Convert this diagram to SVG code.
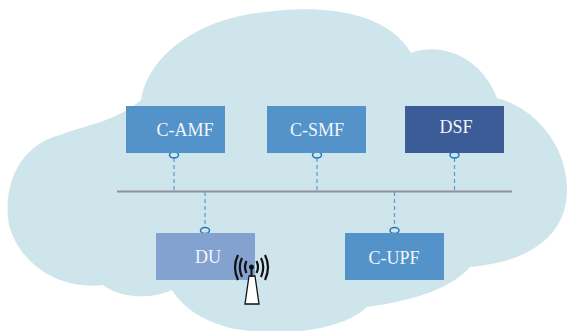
<svg xmlns="http://www.w3.org/2000/svg" width="567" height="331" viewBox="0 0 567 331">
<style>
.n{stroke:none}
.t{font-family:"Liberation Serif","Times New Roman",serif;font-size:18px;fill:#f2f6fa;text-anchor:middle}
.d{stroke:#5b9bd0;stroke-width:1.2;stroke-dasharray:4 3;fill:none}
.o{fill:none;stroke:#1f78bd;stroke-width:1.5}
</style>
<rect width="567" height="331" fill="#fff"/>
<path id="cloud" fill="#cde5eb" d="M141 100C150 50 205 18 265 12C315 5 385 8 411 53C440 42 480 55 497 98C535 108 567 145 567 190C567 235 530 262 470 267C455 285 420 300 367 307C345 328 290 338 235 329C205 322 185 310 172 290C150 300 120 298 103 285C60 290 20 265 9 225C2 185 20 145 60 135C85 125 115 122 141 100Z"/>
<g id="connectors">
<line x1="117" y1="191.500" x2="512" y2="191.500" stroke="#8e9296" stroke-width="2"/>
<line class="d" x1="174" y1="158" x2="174" y2="191"/>
<line class="d" x1="317" y1="158" x2="317" y2="191"/>
<line class="d" x1="454.500" y1="158" x2="454.500" y2="191"/>
<line class="d" x1="205" y1="192" x2="205" y2="227"/>
<line class="d" x1="394.500" y1="192" x2="394.500" y2="227"/>
<ellipse class="o" cx="174" cy="155" rx="4.500" ry="3"/>
<ellipse class="o" cx="317" cy="155" rx="4.500" ry="3"/>
<ellipse class="o" cx="454.500" cy="155" rx="4.500" ry="3"/>
<ellipse class="o" cx="205" cy="230.500" rx="4.500" ry="3"/>
<ellipse class="o" cx="394.500" cy="230.500" rx="4.500" ry="3"/>
</g>
<g id="c-amf"><rect class="n" x="126" y="106" width="99" height="47" fill="#5393c9"/><text class="t" x="185" y="136">C-AMF</text></g>
<g id="c-smf"><rect class="n" x="267" y="106" width="99" height="47" fill="#5393c9"/><text class="t" x="317" y="136">C-SMF</text></g>
<g id="dsf"><rect class="n" x="405" y="106" width="99" height="47" fill="#3b5c96"/><text class="t" x="456" y="133">DSF</text></g>
<g id="du"><rect class="n" x="156" y="233" width="99" height="47" fill="#84a2d0"/><text class="t" x="208" y="263">DU</text></g>
<g id="c-upf"><rect class="n" x="345" y="233" width="99" height="47" fill="#5393c9"/><text class="t" x="394" y="264">C-UPF</text></g>
<g id="antenna">
<path d="M249 276L245 304H259L255 276Z" fill="#fff" stroke="#111" stroke-width="1.300"/>
<circle cx="251.500" cy="267" r="2.500" fill="#111"/>
<line x1="251.500" y1="267" x2="251.500" y2="277" stroke="#111" stroke-width="2"/>
<g fill="none" stroke="#111" stroke-width="2.200">
<path d="M246.500 261Q243.500 267 246.500 273M256.500 261Q259.500 267 256.500 273"/>
<path d="M242 258Q237.500 267 242 277M261 258Q265.500 267 261 277"/>
<path d="M238 255Q232 267 238 280M265 255Q271 267 265 280"/>
</g>
</g>
</svg>
